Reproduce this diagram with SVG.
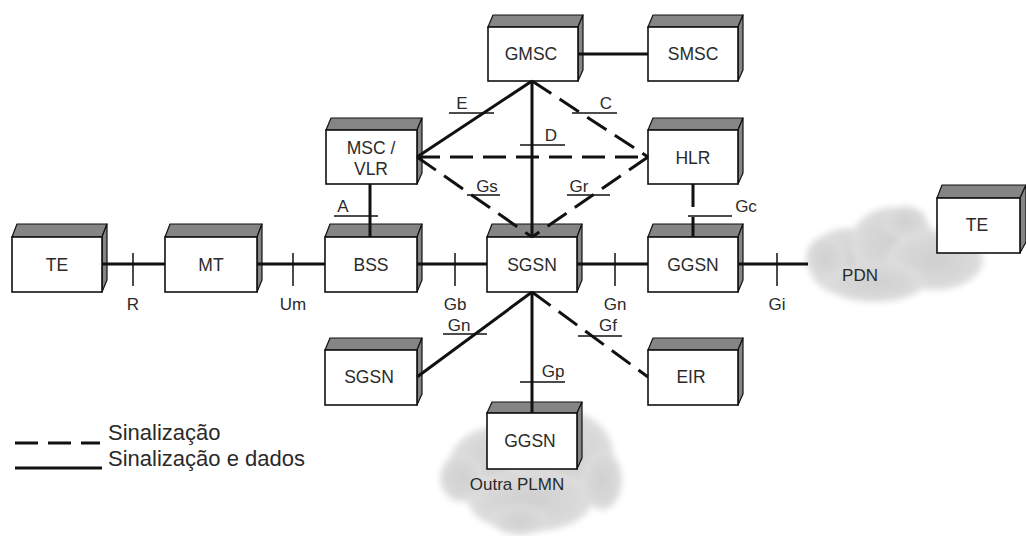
<svg xmlns="http://www.w3.org/2000/svg" width="1026" height="536" viewBox="0 0 1026 536">
  <style>
    .front { fill: #ffffff; stroke: #111; stroke-width: 1.6; }
    .shade { fill: #858585; stroke: #111; stroke-width: 1.2; stroke-linejoin: round; }
    .lbl { font-family: "Liberation Sans", Arial, sans-serif; font-size: 17.5px; fill: #2a2a2a; text-anchor: middle; }
    .ifc { font-family: "Liberation Sans", Arial, sans-serif; font-size: 17px; fill: #2a2a2a; text-anchor: middle; }
    .leg { font-family: "Liberation Sans", Arial, sans-serif; font-size: 22px; fill: #2a2a2a; }
    .solid { stroke: #111; stroke-width: 3; fill: none; }
    .dash { stroke: #111; stroke-width: 3; fill: none; stroke-dasharray: 23 10; }
    .tick { stroke: #111; stroke-width: 1.5; fill: none; }
    .cloud { fill: url(#cloudFill); filter: url(#soft); }
  </style>
  <defs>
    <radialGradient id="cloudFill" cx="0.5" cy="0.5" r="0.6">
      <stop offset="0" stop-color="#cfcfcf"/>
      <stop offset="0.7" stop-color="#dadada"/>
      <stop offset="1" stop-color="#e8e8e8"/>
    </radialGradient>
    <filter id="soft" x="-20%" y="-20%" width="140%" height="140%">
      <feGaussianBlur stdDeviation="3"/>
    </filter>
  </defs>

  <rect width="1026" height="536" fill="#ffffff"/>

  <!-- clouds -->
  <g id="cloud-pdn" class="cloud">
    <ellipse cx="848" cy="262" rx="40" ry="34"/>
    <ellipse cx="893" cy="243" rx="42" ry="36"/>
    <ellipse cx="935" cy="260" rx="48" ry="30"/>
    <ellipse cx="875" cy="282" rx="50" ry="20"/>
    <ellipse cx="826" cy="258" rx="20" ry="22"/>
    <ellipse cx="905" cy="222" rx="22" ry="16"/>
  </g>
  <g id="cloud-plmn" class="cloud">
    <ellipse cx="500" cy="468" rx="52" ry="42"/>
    <ellipse cx="562" cy="458" rx="52" ry="48"/>
    <ellipse cx="530" cy="500" rx="62" ry="32"/>
    <ellipse cx="462" cy="478" rx="22" ry="24"/>
    <ellipse cx="602" cy="480" rx="20" ry="30"/>
    <ellipse cx="520" cy="520" rx="28" ry="15"/>
  </g>

  <!-- nodes -->
  <g id="node-te1">
    <polygon class="shade" points="12,237 17,224 107,224 102,237"/>
    <polygon class="shade" points="102,237 107,224 107,280 102,292"/>
    <rect class="front" x="12" y="237" width="90" height="55"/>
    <text class="lbl" x="57" y="271">TE</text>
  </g>
  <g id="node-mt">
    <polygon class="shade" points="165,237 170,224 262,224 257,237"/>
    <polygon class="shade" points="257,237 262,224 262,280 257,292"/>
    <rect class="front" x="165" y="237" width="92" height="55"/>
    <text class="lbl" x="211" y="271">MT</text>
  </g>
  <g id="node-bss">
    <polygon class="shade" points="325,237 330,224 422,224 417,237"/>
    <polygon class="shade" points="417,237 422,224 422,280 417,292"/>
    <rect class="front" x="325" y="237" width="92" height="55"/>
    <text class="lbl" x="371" y="271">BSS</text>
  </g>
  <g id="node-sgsn">
    <polygon class="shade" points="487,237 492,224 582,224 577,237"/>
    <polygon class="shade" points="577,237 582,224 582,280 577,292"/>
    <rect class="front" x="487" y="237" width="90" height="55"/>
    <text class="lbl" x="532" y="271">SGSN</text>
  </g>
  <g id="node-ggsn">
    <polygon class="shade" points="648,237 653,224 743,224 738,237"/>
    <polygon class="shade" points="738,237 743,224 743,280 738,292"/>
    <rect class="front" x="648" y="237" width="90" height="55"/>
    <text class="lbl" x="693" y="271">GGSN</text>
  </g>
  <g id="node-msc-vlr">
    <polygon class="shade" points="326,130 331,118 422,118 417,130"/>
    <polygon class="shade" points="417,130 422,118 422,173 417,184"/>
    <rect class="front" x="326" y="130" width="91" height="54"/>
    <text class="lbl" x="371" y="154">MSC /</text>
    <text class="lbl" x="371" y="175">VLR</text>
  </g>
  <g id="node-hlr">
    <polygon class="shade" points="648,130 653,118 743,118 738,130"/>
    <polygon class="shade" points="738,130 743,118 743,173 738,184"/>
    <rect class="front" x="648" y="130" width="90" height="54"/>
    <text class="lbl" x="693" y="164">HLR</text>
  </g>
  <g id="node-gmsc">
    <polygon class="shade" points="488,27 493,15 583,15 578,27"/>
    <polygon class="shade" points="578,27 583,15 583,70 578,81"/>
    <rect class="front" x="488" y="27" width="90" height="54"/>
    <text class="lbl" x="531" y="60">GMSC</text>
  </g>
  <g id="node-smsc">
    <polygon class="shade" points="648,27 653,15 743,15 738,27"/>
    <polygon class="shade" points="738,27 743,15 743,70 738,81"/>
    <rect class="front" x="648" y="27" width="90" height="54"/>
    <text class="lbl" x="693" y="60">SMSC</text>
  </g>
  <g id="node-sgsn2">
    <polygon class="shade" points="325,350 330,338 422,338 417,350"/>
    <polygon class="shade" points="417,350 422,338 422,394 417,405"/>
    <rect class="front" x="325" y="350" width="92" height="55"/>
    <text class="lbl" x="369" y="383">SGSN</text>
  </g>
  <g id="node-eir">
    <polygon class="shade" points="648,350 653,338 743,338 738,350"/>
    <polygon class="shade" points="738,350 743,338 743,394 738,405"/>
    <rect class="front" x="648" y="350" width="90" height="55"/>
    <text class="lbl" x="691" y="383">EIR</text>
  </g>
  <g id="node-ggsn2">
    <polygon class="shade" points="487,413 492,402 582,402 577,413"/>
    <polygon class="shade" points="577,413 582,402 582,458 577,469"/>
    <rect class="front" x="487" y="413" width="90" height="56"/>
    <text class="lbl" x="530" y="447">GGSN</text>
  </g>
  <g id="node-te2">
    <polygon class="shade" points="937,198 942,185 1026,185 1020,198"/>
    <polygon class="shade" points="1020,198 1026,185 1026,242 1020,253"/>
    <rect class="front" x="937" y="198" width="83" height="55"/>
    <text class="lbl" x="977" y="231">TE</text>
  </g>

  <!-- connectors -->
  <g id="connectors">
    <line class="solid" x1="102" y1="264" x2="165" y2="264"/>
    <line class="tick" x1="133" y1="253" x2="133" y2="286"/>
    <line class="solid" x1="257" y1="264" x2="325" y2="264"/>
    <line class="tick" x1="293" y1="253" x2="293" y2="286"/>
    <line class="solid" x1="417" y1="264" x2="487" y2="264"/>
    <line class="tick" x1="455" y1="253" x2="455" y2="286"/>
    <line class="solid" x1="577" y1="264" x2="648" y2="264"/>
    <line class="tick" x1="615" y1="253" x2="615" y2="286"/>
    <line class="solid" x1="738" y1="264" x2="808" y2="264"/>
    <line class="tick" x1="777" y1="253" x2="777" y2="286"/>

    <line class="solid" x1="370" y1="184" x2="370" y2="237"/>
    <line class="tick" x1="334" y1="216" x2="378" y2="216"/>
    <line class="dash" x1="693" y1="184" x2="693" y2="237" stroke-dasharray="16 7"/>
    <line class="tick" x1="688" y1="216" x2="732" y2="216"/>

    <line class="solid" x1="578" y1="54" x2="648" y2="54"/>

    <line class="solid" x1="532" y1="81" x2="417" y2="157"/>
    <line class="tick" x1="449" y1="113" x2="494" y2="113"/>
    <line class="dash" x1="532" y1="81" x2="648" y2="157"/>
    <line class="tick" x1="572" y1="113" x2="617" y2="113"/>
    <line class="solid" x1="532" y1="81" x2="532" y2="237"/>
    <line class="tick" x1="520" y1="145" x2="565" y2="145"/>
    <line class="dash" x1="417" y1="157" x2="648" y2="157"/>
    <line class="dash" x1="417" y1="157" x2="532" y2="237"/>
    <line class="tick" x1="467" y1="195" x2="500" y2="195"/>
    <line class="dash" x1="648" y1="157" x2="532" y2="237"/>
    <line class="tick" x1="567" y1="195" x2="610" y2="195"/>

    <line class="solid" x1="532" y1="292" x2="417" y2="377"/>
    <line class="tick" x1="443" y1="334" x2="487" y2="334"/>
    <line class="dash" x1="532" y1="292" x2="648" y2="377"/>
    <line class="tick" x1="578" y1="336" x2="622" y2="336"/>
    <line class="solid" x1="532" y1="292" x2="532" y2="413"/>
    <line class="tick" x1="520" y1="382" x2="565" y2="382"/>
  </g>

  <!-- interface labels -->
  <g id="interface-labels">
    <text class="ifc" x="133" y="310">R</text>
    <text class="ifc" x="293" y="310">Um</text>
    <text class="ifc" x="455" y="310">Gb</text>
    <text class="ifc" x="615" y="310">Gn</text>
    <text class="ifc" x="777" y="310">Gi</text>
    <text class="ifc" x="343" y="212">A</text>
    <text class="ifc" x="746" y="212">Gc</text>
    <text class="ifc" x="462" y="109">E</text>
    <text class="ifc" x="606" y="109">C</text>
    <text class="ifc" x="551" y="141">D</text>
    <text class="ifc" x="487" y="192">Gs</text>
    <text class="ifc" x="579" y="192">Gr</text>
    <text class="ifc" x="459" y="331">Gn</text>
    <text class="ifc" x="608" y="331">Gf</text>
    <text class="ifc" x="553" y="377">Gp</text>
    <text class="ifc" x="860" y="281">PDN</text>
    <text class="ifc" x="517" y="490">Outra PLMN</text>
  </g>

  <!-- legend -->
  <g id="legend">
    <line class="dash" x1="15" y1="443" x2="100" y2="443" stroke-dasharray="23 8"/>
    <line class="solid" x1="15" y1="468" x2="102" y2="468"/>
    <text class="leg" x="108" y="440">Sinalização</text>
    <text class="leg" x="108" y="466">Sinalização e dados</text>
  </g>
</svg>
